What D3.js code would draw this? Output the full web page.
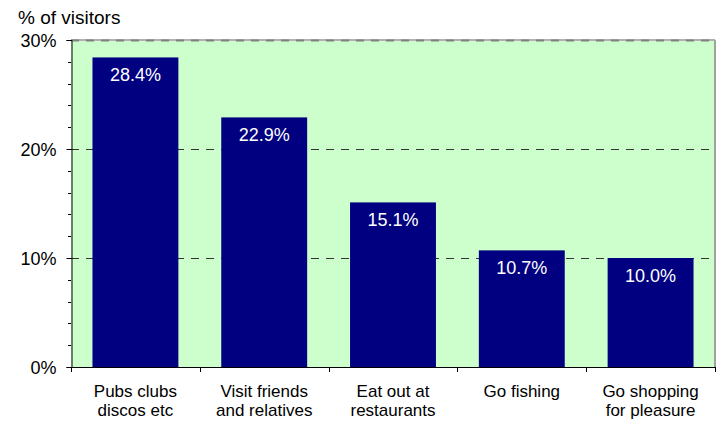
<!DOCTYPE html>
<html><head><meta charset="utf-8">
<script src="https://cdn.jsdelivr.net/npm/d3@7"></script>
<style>body{margin:0;background:#fff}svg{display:block;font-family:"Liberation Sans",Arial,sans-serif}</style>
</head><body>
<svg id="c" width="724" height="421"></svg>
<script>
const categories = [["Pubs clubs","discos etc"],["Visit friends","and relatives"],["Eat out at","restaurants"],["Go fishing"],["Go shopping","for pleasure"]];
const values = [28.4, 22.9, 15.1, 10.7, 10.0];
const yTicks = [0, 10, 20, 30];
const yTitle = "% of visitors";

const svg = d3.select("#c");
const L = 71, R = 715, T = 40, B = 367;
const x = d3.scaleBand().domain(d3.range(values.length)).range([L, R]).paddingInner(0.333).paddingOuter(0.1667);
const y = d3.scaleLinear().domain([0, 30]).range([B, T]);

svg.append("rect").attr("x", L).attr("y", T).attr("width", R - L).attr("height", B - T).attr("fill", "#CCFFCC");
svg.append("line").attr("x1", R).attr("x2", R).attr("y1", T).attr("y2", B).attr("stroke", "#A0A0A0").attr("stroke-width", 2);
svg.append("line").attr("x1", L).attr("x2", R).attr("y1", T).attr("y2", T).attr("stroke", "#B0B0B0").attr("stroke-width", 2);

// gridlines
svg.append("g").selectAll("line").data(yTicks.filter(d => d > 0)).join("line")
  .attr("x1", L).attr("x2", R).attr("y1", d => y(d) + 0.5).attr("y2", d => y(d) + 0.5)
  .attr("stroke", d => d === 30 ? "#808080" : "#333").attr("stroke-width", d => d === 30 ? 2 : 1)
  .attr("stroke-dasharray", "8,7");

// bars
svg.append("g").selectAll("rect").data(values).join("rect")
  .attr("x", (d, i) => x(i)).attr("width", x.bandwidth())
  .attr("y", d => y(d)).attr("height", d => B - y(d)).attr("fill", "#000080");

svg.append("g").selectAll("text").data(values).join("text")
  .attr("x", (d, i) => x(i) + x.bandwidth() / 2).attr("y", d => y(d) + 24)
  .attr("text-anchor", "middle").attr("fill", "#fff").attr("font-size", 18)
  .text(d => d.toFixed(1) + "%");

// y axis
const yAxis = d3.axisLeft(y).tickValues(yTicks).tickFormat(d => d + "%").tickSize(5).tickPadding(10);
const gy = svg.append("g").attr("transform", `translate(${L + 0.5},0)`).call(yAxis);
gy.select(".domain").attr("stroke", "#000");
gy.selectAll("text").attr("font-size", 18).attr("fill", "#000").attr("dy", "0.36em").attr("font-family", '"Liberation Sans",Arial,sans-serif');
const minor = d3.range(2, 30, 2).filter(d => d % 10 !== 0);
svg.append("g").selectAll("line").data(minor).join("line")
  .attr("x1", L - 3).attr("x2", L).attr("y1", d => Math.round(y(d)) + 0.5).attr("y2", d => Math.round(y(d)) + 0.5)
  .attr("stroke", "#000");

// x axis
svg.append("line").attr("x1", L).attr("x2", R + 1).attr("y1", B + 0.5).attr("y2", B + 0.5).attr("stroke", "#000");
const step = (R - L) / values.length;
svg.append("g").selectAll("line").data(d3.range(values.length + 1)).join("line")
  .attr("x1", i => Math.round(L + i * step) + 0.5).attr("x2", i => Math.round(L + i * step) + 0.5)
  .attr("y1", B).attr("y2", B + 5).attr("stroke", "#000");

const cl = svg.append("g").selectAll("text").data(categories).join("text")
  .attr("text-anchor", "middle").attr("font-size", 17).attr("fill", "#000");
cl.each(function(lines, i) {
  d3.select(this).selectAll("tspan").data(lines).join("tspan")
    .attr("x", x(i) + x.bandwidth() / 2).attr("y", (d, j) => 397 + j * 19).text(d => d);
});

svg.append("text").attr("x", 18).attr("y", 24).attr("font-size", 19).attr("fill", "#000").text(yTitle);
</script>
</body></html>
